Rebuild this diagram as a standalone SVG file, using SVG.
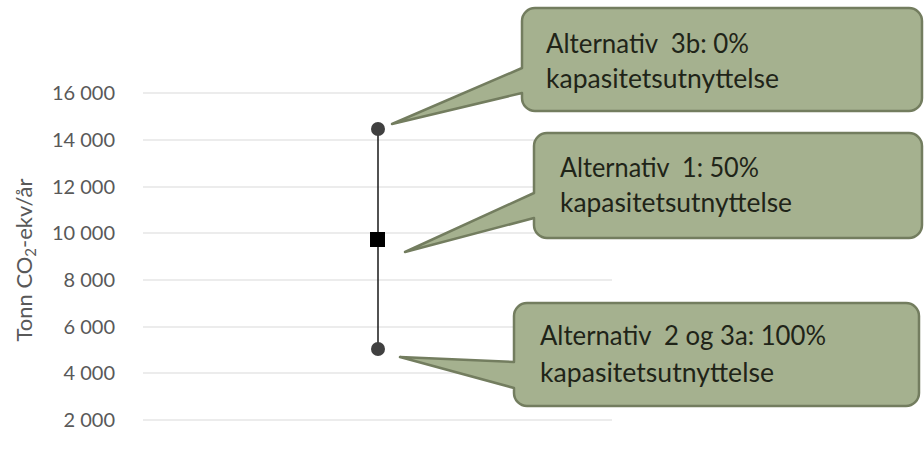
<svg xmlns="http://www.w3.org/2000/svg" width="924" height="466" viewBox="0 0 924 466">
<style>
.grid{stroke:#d9d9d9;stroke-width:1.2;fill:none}
.tick{font-family:Lato,"Open Sans","Liberation Sans",sans-serif;font-size:20px;fill:#595959;text-anchor:end}
.title{font-family:Lato,"Open Sans","Liberation Sans",sans-serif;font-size:22px;fill:#595959;text-anchor:middle}
.callout{fill:#a5b18f;stroke:#737d5f;stroke-width:2.5;stroke-linejoin:round}
.ctext{font-family:Lato,"Open Sans","Liberation Sans",sans-serif;font-size:26px;fill:#1f2418}
.bar{stroke:#262626;stroke-width:1.6}
.dot{fill:#404040}
</style>
<rect width="924" height="466" fill="#ffffff"/>
<g id="axis">
<g id="gridlines">
<line class="grid" x1="143" y1="93" x2="612" y2="93"/>
<line class="grid" x1="143" y1="140" x2="612" y2="140"/>
<line class="grid" x1="143" y1="187" x2="612" y2="187"/>
<line class="grid" x1="143" y1="233" x2="612" y2="233"/>
<line class="grid" x1="143" y1="280" x2="612" y2="280"/>
<line class="grid" x1="143" y1="327" x2="612" y2="327"/>
<line class="grid" x1="143" y1="373" x2="612" y2="373"/>
<line class="grid" x1="143" y1="420" x2="612" y2="420"/>
</g>
<g id="ticklabels">
<text class="tick" x="115" y="100">16 000</text>
<text class="tick" x="115" y="147">14 000</text>
<text class="tick" x="115" y="194">12 000</text>
<text class="tick" x="115" y="240">10 000</text>
<text class="tick" x="115" y="287">8 000</text>
<text class="tick" x="115" y="334">6 000</text>
<text class="tick" x="115" y="380">4 000</text>
<text class="tick" x="115" y="427">2 000</text>
</g>
<text class="title" transform="translate(32,260) rotate(-90)">Tonn CO<tspan font-size="15" dy="4">2</tspan><tspan dy="-4">-ekv/år</tspan></text>
</g>
<g id="connectors">
<line class="bar" x1="378" y1="129" x2="378" y2="349"/>
</g>
<g id="point-3b">
<circle class="dot" cx="378" cy="129" r="7"/>
</g>
<g id="point-1">
<rect x="370" y="232" width="15" height="15" fill="#000000"/>
</g>
<g id="point-2-3a">
<circle class="dot" cx="378" cy="349" r="7"/>
</g>
<g id="callout-3b">
<path class="callout" d="M535,8 H909 A13,13 0 0 1 922,21 V98 A13,13 0 0 1 909,111 H535 A13,13 0 0 1 522,98 V93 L392,124 L522,68 V21 A13,13 0 0 1 535,8 Z"/>
<text class="ctext" x="546" y="53" textLength="203" lengthAdjust="spacingAndGlyphs" xml:space="preserve">Alternativ  3b: 0%</text>
<text class="ctext" x="546" y="88" textLength="233" lengthAdjust="spacingAndGlyphs">kapasitetsutnyttelse</text>
</g>
<g id="callout-1">
<path class="callout" d="M547,133 H909 A13,13 0 0 1 922,146 V225 A13,13 0 0 1 909,238 H547 A13,13 0 0 1 534,225 V218 L405,252 L534,193 V146 A13,13 0 0 1 547,133 Z"/>
<text class="ctext" x="560" y="177" textLength="199" lengthAdjust="spacingAndGlyphs" xml:space="preserve">Alternativ  1: 50%</text>
<text class="ctext" x="560" y="212" textLength="232" lengthAdjust="spacingAndGlyphs">kapasitetsutnyttelse</text>
</g>
<g id="callout-2-3a">
<path class="callout" d="M527,303 H906 A13,13 0 0 1 919,316 V393 A13,13 0 0 1 906,406 H527 A13,13 0 0 1 514,393 V388 L400,357 L514,362 V316 A13,13 0 0 1 527,303 Z"/>
<text class="ctext" x="540" y="345" textLength="286" lengthAdjust="spacingAndGlyphs" xml:space="preserve">Alternativ  2 og 3a: 100%</text>
<text class="ctext" x="540" y="382" textLength="234" lengthAdjust="spacingAndGlyphs">kapasitetsutnyttelse</text>
</g>
</svg>
